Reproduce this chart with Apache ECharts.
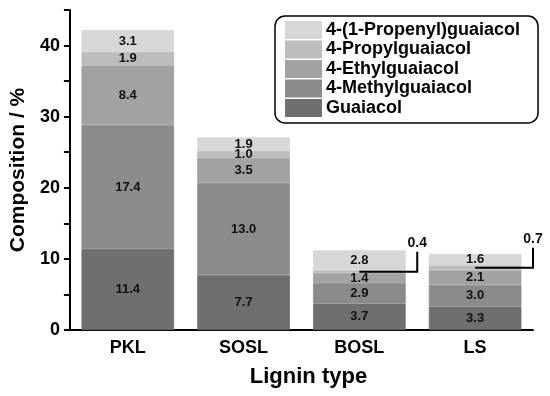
<!DOCTYPE html>
<html>
<head>
<meta charset="utf-8">
<script src="https://cdn.jsdelivr.net/npm/echarts@6/dist/echarts.min.js"></script>
<style>html,body{margin:0;padding:0;background:#fff;}#c{width:550px;height:396px;}</style>
</head>
<body>
<div id="c"></div>
<script>
const categories = ['PKL', 'SOSL', 'BOSL', 'LS'];
const guaiacol = [11.4, 7.7, 3.7, 3.3];
const methylguaiacol = [17.4, 13.0, 2.9, 3.0];
const ethylguaiacol = [8.4, 3.5, 1.4, 2.1];
const propylguaiacol = [1.9, 1.0, 0.4, 0.7];
const propenylguaiacol = [3.1, 1.9, 2.8, 1.6];
const seriesNames = ['Guaiacol', '4-Methylguaiacol', '4-Ethylguaiacol', '4-Propylguaiacol', '4-(1-Propenyl)guaiacol'];
const seriesColors = ['#6f6f6f', '#8b8b8b', '#a2a2a2', '#bcbcbc', '#d7d7d7'];
const calloutCats = [2, 3]; // categories whose propyl value is shown with a callout
const yMin = 0, yMax = 45, yInterval = 5;

const FONT = '"Liberation Sans", Arial, sans-serif';
const allSeries = [guaiacol, methylguaiacol, ethylguaiacol, propylguaiacol, propenylguaiacol];

const barSeries = allSeries.map((vals, si) => ({
  name: seriesNames[si],
  type: 'bar',
  stack: 'total',
  barCategoryGap: '20%',
  itemStyle: { color: seriesColors[si], borderColor: seriesColors[si], borderWidth: 0.8 },
  data: vals.map((v, ci) => {
    const item = { value: v };
    if (si === 3 && calloutCats.includes(ci)) item.label = { show: false };
    return item;
  }),
  label: {
    show: true, position: 'inside', color: '#111',
    fontFamily: FONT, fontWeight: 'bold', fontSize: 13,
    formatter: p => p.value.toFixed(1)
  }
}));

const calloutData = calloutCats.map(ci => [ci, guaiacol[ci] + methylguaiacol[ci] + ethylguaiacol[ci], propylguaiacol[ci]]);

const calloutSeries = {
  type: 'custom',
  z: 10,
  encode: { x: 0, y: 1 },
  data: calloutData,
  renderItem: function (params, api) {
    const c = api.coord([api.value(0), api.value(1) + api.value(2) / 2]);
    const band = api.size([1, 0])[0];
    const x2 = c[0] + band * 0.5;
    const y2 = c[1] - 20;
    return {
      type: 'group',
      children: [
        { type: 'polyline', shape: { points: [[c[0], c[1]], [x2, c[1]], [x2, y2]] },
          style: { stroke: '#000', lineWidth: 2, fill: null } },
        { type: 'text', x: x2, y: y2 - 2,
          style: { text: api.value(2).toFixed(1), textAlign: 'center', textVerticalAlign: 'bottom',
                   font: 'bold 14px ' + FONT, fill: '#111' } }
      ]
    };
  }
};

const chart = echarts.init(document.getElementById('c'), null, { renderer: 'canvas' });
chart.setOption({
  animation: false,
  backgroundColor: '#fff',
  grid: { left: 67, right: 17, top: 10, bottom: 66 },
  legend: {
    data: seriesNames.slice().reverse(),
    orient: 'vertical',
    left: 275, top: 16,
    padding: [5, 18, 6, 10],
    itemWidth: 35, itemHeight: 16, itemGap: 1.5,
    icon: 'rect',
    borderColor: '#000', borderWidth: 1.5, borderRadius: 10,
    textStyle: { fontFamily: FONT, fontWeight: 'bold', fontSize: 18, color: '#000' }
  },
  xAxis: {
    type: 'category',
    data: categories,
    name: 'Lignin type',
    nameLocation: 'middle',
    nameGap: 36,
    nameTextStyle: { fontFamily: FONT, fontWeight: 'bold', fontSize: 22, color: '#000', padding: [0, 0, 0, 14] },
    axisLine: { lineStyle: { color: '#000', width: 2 } },
    axisTick: { alignWithLabel: true, length: 6, lineStyle: { color: '#000', width: 2 } },
    axisLabel: { fontFamily: FONT, fontWeight: 'bold', fontSize: 18, color: '#000', margin: 9 }
  },
  yAxis: {
    type: 'value',
    min: yMin, max: yMax, interval: yInterval,
    name: 'Composition / %',
    nameLocation: 'middle',
    nameGap: 38,
    nameTextStyle: { fontFamily: FONT, fontWeight: 'bold', fontSize: 21, color: '#000' },
    splitLine: { show: false },
    axisLine: { show: true, lineStyle: { color: '#000', width: 2 } },
    axisTick: { show: true, length: 6, lineStyle: { color: '#000', width: 2 } },
    axisLabel: { fontFamily: FONT, fontWeight: 'bold', fontSize: 18, color: '#000', margin: 10,
                 formatter: v => (v % 10 === 0 ? String(v) : '') }
  },
  series: barSeries.concat([calloutSeries])
});
</script>
</body>
</html>
